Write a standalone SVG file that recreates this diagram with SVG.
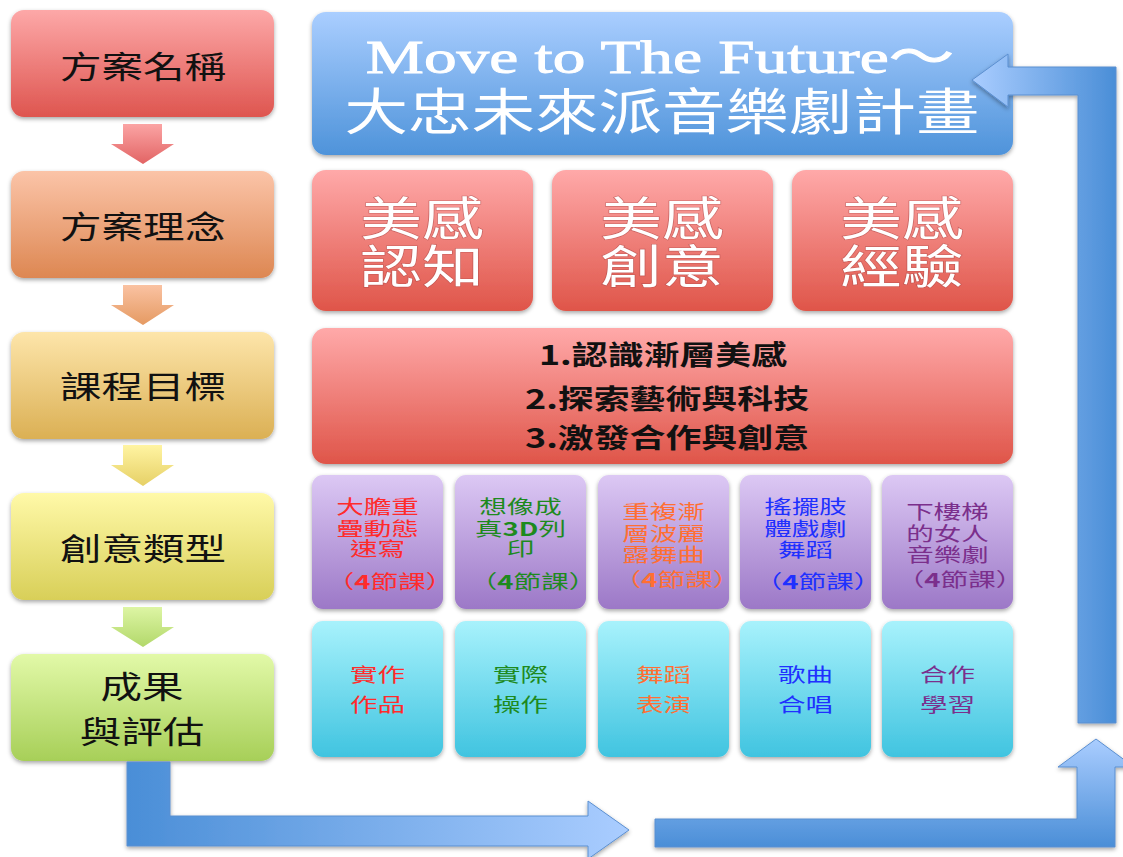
<svg xmlns="http://www.w3.org/2000/svg" width="1123" height="857" viewBox="0 0 1123 857">
<defs>
<filter id="sh" x="-10%" y="-10%" width="120%" height="130%">
<feDropShadow dx="0" dy="2" stdDeviation="2" flood-color="#000" flood-opacity="0.35"/>
</filter>
<linearGradient id="gL1" x1="0" y1="0" x2="0" y2="1"><stop offset="0" stop-color="#FDA8A8"/><stop offset="1" stop-color="#DE554F"/></linearGradient>
<linearGradient id="gL2" x1="0" y1="0" x2="0" y2="1"><stop offset="0" stop-color="#FBC4A8"/><stop offset="1" stop-color="#DD8752"/></linearGradient>
<linearGradient id="gL3" x1="0" y1="0" x2="0" y2="1"><stop offset="0" stop-color="#FDE5AA"/><stop offset="1" stop-color="#DBB054"/></linearGradient>
<linearGradient id="gL4" x1="0" y1="0" x2="0" y2="1"><stop offset="0" stop-color="#FFF9A8"/><stop offset="1" stop-color="#D8CF58"/></linearGradient>
<linearGradient id="gL5" x1="0" y1="0" x2="0" y2="1"><stop offset="0" stop-color="#E2F9A8"/><stop offset="1" stop-color="#A7CF58"/></linearGradient>
<linearGradient id="gA1" x1="0" y1="0" x2="0" y2="1"><stop offset="0" stop-color="#FBA4A4"/><stop offset="1" stop-color="#E26464"/></linearGradient>
<linearGradient id="gA2" x1="0" y1="0" x2="0" y2="1"><stop offset="0" stop-color="#FAC2A2"/><stop offset="1" stop-color="#E59A62"/></linearGradient>
<linearGradient id="gA3" x1="0" y1="0" x2="0" y2="1"><stop offset="0" stop-color="#FFF4A2"/><stop offset="1" stop-color="#E6D066"/></linearGradient>
<linearGradient id="gA4" x1="0" y1="0" x2="0" y2="1"><stop offset="0" stop-color="#DDF5A4"/><stop offset="1" stop-color="#B2D86A"/></linearGradient>
<linearGradient id="gBlue" x1="0" y1="0" x2="0" y2="1"><stop offset="0" stop-color="#AACEFF"/><stop offset="1" stop-color="#4E93DA"/></linearGradient>
<linearGradient id="gRed" x1="0" y1="0" x2="0" y2="1"><stop offset="0" stop-color="#FFA9A9"/><stop offset="1" stop-color="#DF5549"/></linearGradient>
<linearGradient id="gPur" x1="0" y1="0" x2="0" y2="1"><stop offset="0" stop-color="#DCC8F4"/><stop offset="1" stop-color="#9C78C7"/></linearGradient>
<linearGradient id="gCy" x1="0" y1="0" x2="0" y2="1"><stop offset="0" stop-color="#A8F2FC"/><stop offset="1" stop-color="#40C4E0"/></linearGradient>
<linearGradient id="gArrBL" gradientUnits="userSpaceOnUse" x1="127" y1="0" x2="629" y2="0"><stop offset="0" stop-color="#4A8ED7"/><stop offset="1" stop-color="#AACDFF"/></linearGradient>
<linearGradient id="gArrBR" gradientUnits="userSpaceOnUse" x1="0" y1="739" x2="0" y2="847"><stop offset="0" stop-color="#AACDFF"/><stop offset="1" stop-color="#4A8ED7"/></linearGradient>
<linearGradient id="gArrTR" gradientUnits="userSpaceOnUse" x1="972" y1="0" x2="1116" y2="0"><stop offset="0" stop-color="#AACDFF"/><stop offset="1" stop-color="#4A8ED7"/></linearGradient>
</defs>
<style>
.box{filter:url(#sh);}
.t{font-family:"Noto Sans CJK TC","Noto Sans CJK SC",sans-serif;text-anchor:middle;}
.lc{font-size:31px;fill:#111;}
.big{font-size:46px;fill:#fff;stroke:#a84848;stroke-width:1.2px;stroke-opacity:0.55;paint-order:stroke;}
.goal{font-size:27px;font-weight:bold;fill:#111;}
.cell{font-size:19px;}
.b{font-weight:bold;}
.ttl{fill:#fff;text-anchor:middle;}
.en{font-family:"Liberation Serif","Noto Sans CJK TC",serif;font-size:47px;stroke:#fff;stroke-width:0.9px;}
.arr{stroke:#5B8FD0;stroke-width:1;filter:url(#sh);}
.cr{fill:#FF2B2B;}
.cg{fill:#1E8A1E;}
.co{fill:#FF6F33;}
.cb{fill:#2030FF;}
.cp{fill:#7B2F8C;}
</style>

<g id="n-name"><rect class="box" x="11" y="10" width="263" height="107" rx="13" fill="url(#gL1)"/>
<text class="t lc" transform="translate(143,78) scale(1.34,1)">方案名稱</text></g>
<g id="n-idea"><rect class="box" x="11" y="171" width="263" height="107" rx="13" fill="url(#gL2)"/>
<text class="t lc" transform="translate(143,238) scale(1.34,1)">方案理念</text></g>
<g id="n-goal"><rect class="box" x="11" y="332" width="263" height="107" rx="13" fill="url(#gL3)"/>
<text class="t lc" transform="translate(143,398) scale(1.34,1)">課程目標</text></g>
<g id="n-type"><rect class="box" x="11" y="493" width="263" height="107" rx="13" fill="url(#gL4)"/>
<text class="t lc" transform="translate(143,560) scale(1.34,1)">創意類型</text></g>
<g id="n-result"><rect class="box" x="11" y="654" width="263" height="107" rx="13" fill="url(#gL5)"/>
<text class="t lc" transform="translate(142,698) scale(1.34,1)">成果</text>
<text class="t lc" transform="translate(142,743) scale(1.34,1)">與評估</text></g>

<g id="n-title"><rect class="box" x="312" y="12" width="701" height="143" rx="14" fill="url(#gBlue)"/>
<text class="ttl en" transform="translate(660,73) scale(1.39,1)">Move to The Future～</text>
<text class="t ttl" font-size="50" transform="translate(662,130) scale(1.27,1)">大忠未來派音樂劇計畫</text></g>

<g id="n-c1"><rect class="box" x="312" y="170" width="221" height="141" rx="14" fill="url(#gRed)"/>
<text class="t big" transform="translate(422,235) scale(1.34,1)">美感</text>
<text class="t big" transform="translate(422,283) scale(1.34,1)">認知</text></g>
<g id="n-c2"><rect class="box" x="552" y="170" width="221" height="141" rx="14" fill="url(#gRed)"/>
<text class="t big" transform="translate(662,235) scale(1.34,1)">美感</text>
<text class="t big" transform="translate(662,283) scale(1.34,1)">創意</text></g>
<g id="n-c3"><rect class="box" x="792" y="170" width="221" height="141" rx="14" fill="url(#gRed)"/>
<text class="t big" transform="translate(902,235) scale(1.34,1)">美感</text>
<text class="t big" transform="translate(902,283) scale(1.34,1)">經驗</text></g>

<g id="n-goals"><rect class="box" x="312" y="328" width="701" height="136" rx="14" fill="url(#gRed)"/>
<text class="t goal" transform="translate(663,365) scale(1.33,1)">1.認識漸層美感</text>
<text class="t goal" transform="translate(667,409) scale(1.33,1)">2.探索藝術與科技</text>
<text class="t goal" transform="translate(667,448) scale(1.33,1)">3.激發合作與創意</text></g>

<g id="n-p1"><rect class="box" x="312" y="475" width="131" height="134" rx="11" fill="url(#gPur)"/>
<g class="t cell cr">
<text transform="translate(377.5,513.5) scale(1.45,1)">大膽重</text>
<text transform="translate(377.5,535.5) scale(1.45,1)">疊動態</text>
<text transform="translate(377.5,556) scale(1.45,1)">速寫</text>
<text transform="translate(390,588.5) scale(1.45,1)">（<tspan class="b">4</tspan>節課）</text></g></g>
<g id="n-p2"><rect class="box" x="455" y="475" width="131" height="134" rx="11" fill="url(#gPur)"/>
<g class="t cell cg">
<text transform="translate(520.5,513.5) scale(1.45,1)">想像成</text>
<text transform="translate(520.5,535.5) scale(1.45,1)">真<tspan class="b">3D</tspan>列</text>
<text transform="translate(520.5,556) scale(1.45,1)">印</text>
<text transform="translate(533,588.5) scale(1.45,1)">（<tspan class="b">4</tspan>節課）</text></g></g>
<g id="n-p3"><rect class="box" x="598" y="475" width="131" height="134" rx="11" fill="url(#gPur)"/>
<g class="t cell co">
<text transform="translate(663.5,518.5) scale(1.45,1)">重複漸</text>
<text transform="translate(663.5,541) scale(1.45,1)">層波麗</text>
<text transform="translate(663.5,562) scale(1.45,1)">露舞曲</text>
<text transform="translate(677,586.5) scale(1.45,1)">（<tspan class="b">4</tspan>節課）</text></g></g>
<g id="n-p4"><rect class="box" x="740" y="475" width="131" height="134" rx="11" fill="url(#gPur)"/>
<g class="t cell cb">
<text transform="translate(805.5,513.5) scale(1.45,1)">搖擺肢</text>
<text transform="translate(805.5,535.5) scale(1.45,1)">體戲劇</text>
<text transform="translate(805.5,557) scale(1.45,1)">舞蹈</text>
<text transform="translate(818,589) scale(1.45,1)">（<tspan class="b">4</tspan>節課）</text></g></g>
<g id="n-p5"><rect class="box" x="882" y="475" width="131" height="134" rx="11" fill="url(#gPur)"/>
<g class="t cell cp">
<text transform="translate(947.5,518.5) scale(1.45,1)">下樓梯</text>
<text transform="translate(947.5,541) scale(1.45,1)">的女人</text>
<text transform="translate(947.5,562) scale(1.45,1)">音樂劇</text>
<text transform="translate(960,586.5) scale(1.45,1)">（<tspan class="b">4</tspan>節課）</text></g></g>

<g id="n-r1"><rect class="box" x="312" y="621" width="131" height="136" rx="11" fill="url(#gCy)"/>
<g class="t cell cr"><text transform="translate(377.5,681.5) scale(1.45,1)">實作</text><text transform="translate(377.5,711.5) scale(1.45,1)">作品</text></g></g>
<g id="n-r2"><rect class="box" x="455" y="621" width="131" height="136" rx="11" fill="url(#gCy)"/>
<g class="t cell cg"><text transform="translate(520.5,681.5) scale(1.45,1)">實際</text><text transform="translate(520.5,711.5) scale(1.45,1)">操作</text></g></g>
<g id="n-r3"><rect class="box" x="598" y="621" width="131" height="136" rx="11" fill="url(#gCy)"/>
<g class="t cell co"><text transform="translate(663.5,681.5) scale(1.45,1)">舞蹈</text><text transform="translate(663.5,711.5) scale(1.45,1)">表演</text></g></g>
<g id="n-r4"><rect class="box" x="740" y="621" width="131" height="136" rx="11" fill="url(#gCy)"/>
<g class="t cell cb"><text transform="translate(805.5,681.5) scale(1.45,1)">歌曲</text><text transform="translate(805.5,711.5) scale(1.45,1)">合唱</text></g></g>
<g id="n-r5"><rect class="box" x="882" y="621" width="131" height="136" rx="11" fill="url(#gCy)"/>
<g class="t cell cp"><text transform="translate(947.5,681.5) scale(1.45,1)">合作</text><text transform="translate(947.5,711.5) scale(1.45,1)">學習</text></g></g>

<g id="connectors">
<path d="M123 124 H162 V144 H174 L143 164 L111 144 H123 Z" fill="url(#gA1)"/>
<path d="M123 285 H162 V305 H174 L143 325 L111 305 H123 Z" fill="url(#gA2)"/>
<path d="M123 445 H162 V465 H174 L143 486 L111 465 H123 Z" fill="url(#gA3)"/>
<path d="M123 607 H162 V627 H174 L143 647 L111 627 H123 Z" fill="url(#gA4)"/>
<path class="arr" d="M127 762 H170 V816 H588 V801 L629 830 L588 859 V846 H127 Z" fill="url(#gArrBL)"/>
<path class="arr" d="M655 819 H1077 V767 H1058 L1096 739 L1134 767 H1115 V847 H655 Z" fill="url(#gArrBR)"/>
<path class="arr" d="M1078 723 V95 H1008 V107 L972 80 L1008 54 V67 H1116 V723 Z" fill="url(#gArrTR)"/>
</g>
</svg>
